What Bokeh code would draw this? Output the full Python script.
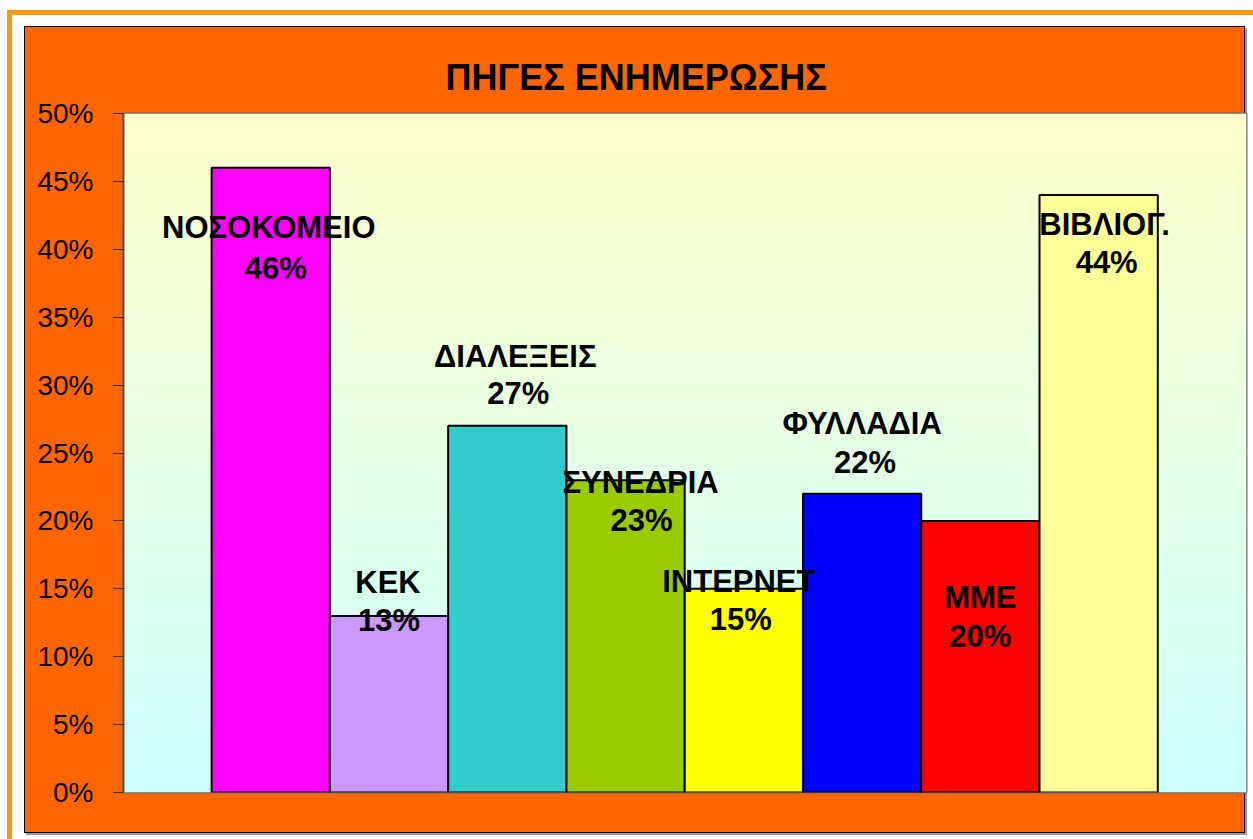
import numpy as np
from bokeh.plotting import figure
from bokeh.models import (ColumnDataSource, Range1d, FixedTicker, PrintfTickFormatter, Label)
from bokeh.core.properties import value
from bokeh.embed import file_html
from bokeh.resources import INLINE

# ---------------- data ----------------
title_text = "ΠΗΓΕΣ ΕΝΗΜΕΡΩΣΗΣ"
caption_text = "Διάγραμμα 2"
categories = ["ΝΟΣΟΚΟΜΕΙΟ", "ΚΕΚ", "ΔΙΑΛΕΞΕΙΣ", "ΣΥΝΕΔΡΙΑ", "ΙΝΤΕΡΝΕΤ",
              "ΦΥΛΛΑΔΙΑ", "ΜΜΕ", "ΒΙΒΛΙΟΓ."]
values = [46, 13, 27, 23, 15, 22, 20, 44]
y_ticks = [0, 5, 10, 15, 20, 25, 30, 35, 40, 45, 50]

# ---------------- styles ----------------
bar_colors = ["#FF00FF", "#CC99FF", "#33CCCC", "#99CC00", "#FFFF00",
              "#0000FF", "#FF0000", "#FFFF99"]
# label placement (pixels, relative to the top of each bar; +y = down)
name_dx = [-2, -1, 8, 15, -5, 0, 0, 6]
name_dy = [60, -33, -69, 2, -7, -70, 77, 30]
val_dx = [5, 0, 11, 16, -3, 3, 0, 8]
val_dy = [101, 5, -32, 40, 31, -31, 116, 68]

FONT = "Liberation Sans"
ORANGE = "#FF6600"
FRAME_ORANGE = "#FF9900"
W, H = 1253, 839

x_pos = list(range(len(categories)))
x_lo, x_hi = -1.245, len(categories) - 0.5 + 0.75

src = ColumnDataSource(dict(
    x=x_pos, top=values, color=bar_colors, name=categories,
    label=[f"{v}%" for v in values],
    ndx=name_dx, ndy=name_dy, vdx=val_dx, vdy=val_dy,
))

p = figure(width=W, height=H, output_backend="svg", toolbar_location=None,
           x_range=Range1d(x_lo, x_hi), y_range=Range1d(0, 50),
           min_border_left=123, min_border_right=7, min_border_top=113,
           min_border_bottom=47, title=title_text)
p.border_fill_alpha = 0
p.background_fill_color = "#FFFFCC"
p.outline_line_color = "#6E6E6E"
p.outline_line_width = 2

# page / chart-area decoration behind the (transparent) canvas border
layers = [
    ("linear-gradient(%s, %s)" % (FRAME_ORANGE, FRAME_ORANGE), "7px 10px", "1246px 5px"),
    ("linear-gradient(%s, %s)" % (FRAME_ORANGE, FRAME_ORANGE), "7px 10px", "5px 829px"),
    ("linear-gradient(%s, %s)" % (ORANGE, ORANGE), "25px 27px", "1219px 805px"),
    ("linear-gradient(#000000, #000000)", "24px 26px", "1221px 807px"),
    ("linear-gradient(#999999, #999999)", "26px 28px", "1221px 807px"),
]
p.styles = {
    "background-color": "white",
    "background-image": ", ".join(l[0] for l in layers),
    "background-position": ", ".join(l[1] for l in layers),
    "background-size": ", ".join(l[2] for l in layers),
    "background-repeat": "no-repeat",
}

p.title.text_font = FONT
p.title.text_font_size = "36px"
p.title.text_font_style = "bold"
p.title.text_color = "black"
p.title.align = "left"
p.title.offset = 322
p.title.standoff = 32

# gradient plot background
n = 256
t = np.linspace(0, 1, n)[:, None]
bottom_c = np.array([204, 255, 255])
top_c = np.array([255, 255, 204])
rgb = (bottom_c * (1 - t) + top_c * t).astype(np.uint8)
img = np.zeros((n, 2), dtype=np.uint32)
view = img.view(dtype=np.uint8).reshape((n, 2, 4))
for j in range(2):
    view[:, j, 0] = rgb[:, 0]
    view[:, j, 1] = rgb[:, 1]
    view[:, j, 2] = rgb[:, 2]
    view[:, j, 3] = 255
p.image_rgba(image=[img], x=x_lo, y=0, dw=x_hi - x_lo, dh=50)

# grid
p.xgrid.visible = False
p.ygrid.ticker = FixedTicker(ticks=y_ticks)
p.ygrid.grid_line_color = FRAME_ORANGE
p.ygrid.grid_line_width = 1

# y axis
p.yaxis.ticker = FixedTicker(ticks=y_ticks)
p.yaxis.formatter = PrintfTickFormatter(format="%d%%")
p.yaxis.major_label_text_font = FONT
p.yaxis.major_label_text_font_size = "28px"
p.yaxis.major_label_text_color = "black"
p.yaxis.major_tick_out = 10
p.yaxis.major_tick_in = 0
p.yaxis.minor_tick_out = 0
p.yaxis.minor_tick_in = 0
p.yaxis.major_tick_line_color = "#333333"
p.yaxis.axis_line_color = "#555555"
p.yaxis.axis_line_width = 2
p.yaxis.major_label_standoff = 20

# category axis carries no labels in the reference
p.xaxis.visible = False

# bars
p.vbar(x="x", top="top", bottom=0, width=1.0, source=src,
       fill_color="color", line_color="black", line_width=2)

# labels
common = dict(text_align="center", text_baseline="middle", text_font=value(FONT),
              text_font_style="bold", text_font_size="31px", text_color="black")
p.text(x="x", y="top", text="name", x_offset="ndx", y_offset="ndy", source=src, **common)
p.text(x="x", y="top", text="label", x_offset="vdx", y_offset="vdy", source=src, **common)

# caption above the chart, cut by the page edge as in the reference
cap = Label(x=630, y=2, x_units="canvas", y_units="canvas", text=caption_text,
            text_align="center", text_baseline="alphabetic", text_font=FONT,
            text_font_size="34px", text_color="black")
p.add_layout(cap)

open("out.html", "w").write(file_html(p, INLINE))
